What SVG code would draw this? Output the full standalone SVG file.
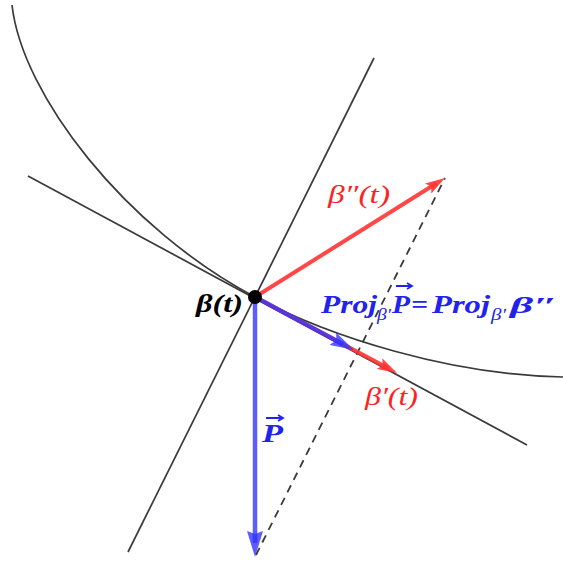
<svg xmlns="http://www.w3.org/2000/svg" width="563" height="561" viewBox="0 0 563 561">
<defs>
<style>
.ln{fill:none;stroke:#3a3a3a;stroke-width:1.7}
.dash{fill:none;stroke:#3a3a3a;stroke-width:1.8;stroke-dasharray:8,6}
.red{stroke:#ff3333;stroke-opacity:0.9;stroke-width:4;fill:none}
.blue{stroke:#3333ff;stroke-opacity:0.8;stroke-width:4.5;fill:none}
.t{font-family:"Liberation Serif","DejaVu Serif",serif;font-style:italic}
.b{font-weight:bold}
</style>
<marker id="ar" markerUnits="userSpaceOnUse" viewBox="0 0 20 12" markerWidth="20" markerHeight="12" refX="10" refY="6" orient="auto"><path d="M0,0 L20,6 L0,12 L4,6 z" fill="#ff3333" fill-opacity="0.9"/></marker>
<marker id="ab" markerUnits="userSpaceOnUse" viewBox="0 0 24 14" markerWidth="24" markerHeight="14" refX="12" refY="7" orient="auto"><path d="M0,0 L24,7 L0,14 L4,7 z" fill="#3333ff" fill-opacity="0.8"/></marker>
<marker id="abig" markerUnits="userSpaceOnUse" viewBox="0 0 26 16" markerWidth="26" markerHeight="16" refX="12" refY="8" orient="auto"><path d="M0,0 L26,8 L0,16 L3,8 z" fill="#3333ff" fill-opacity="0.8"/></marker>
</defs>
<g id="connectors">
<path class="ln" d="M12,5 C22,95 125,228 255,297 C330,337 450,375 563,377"/>
<line class="ln" x1="28" y1="176" x2="527" y2="445"/>
<line class="ln" x1="128" y1="552" x2="374" y2="58"/>
<line class="dash" x1="256" y1="555" x2="445" y2="178"/>
<line class="red" x1="255" y1="297" x2="436.5" y2="183.3" marker-end="url(#ar)"/>
<line class="red" x1="255" y1="297" x2="388.2" y2="368.3" marker-end="url(#ar)"/>
<line class="blue" x1="255" y1="297" x2="343.4" y2="344.4" marker-end="url(#ab)"/>
<line class="blue" x1="255" y1="297" x2="255" y2="543" marker-end="url(#abig)"/>
</g>
<g id="point"><circle cx="255" cy="297" r="7" fill="#000"/></g>
<g id="labels">
<text class="t b" x="196" y="312" font-size="26" textLength="47" lengthAdjust="spacingAndGlyphs">β(t)</text>
<text class="t" x="328" y="203" font-size="25" fill="#ff2222" textLength="62" lengthAdjust="spacingAndGlyphs">β″(t)</text>
<text class="t" x="365" y="405" font-size="25" fill="#ff2222" textLength="53" lengthAdjust="spacingAndGlyphs">β′(t)</text>
<g fill="#2222ee">
<text class="t b" x="262" y="442" font-size="25" textLength="21" lengthAdjust="spacingAndGlyphs">P</text>
<path d="M266,418 H282 M278,415 L283,418 L278,421" stroke="#2222ee" stroke-width="1.8" fill="none"/>
<text class="t b" x="321" y="313" font-size="26" textLength="56" lengthAdjust="spacingAndGlyphs">Proj</text>
<text class="t" x="377" y="320" font-size="16" textLength="14" lengthAdjust="spacingAndGlyphs">β′</text>
<text class="t b" x="392" y="313" font-size="26" textLength="18" lengthAdjust="spacingAndGlyphs">P</text>
<path d="M396,286 H411 M407,283 L412,286 L407,289" stroke="#2222ee" stroke-width="1.8" fill="none"/>
<text class="t b" x="411" y="313" font-size="26" font-style="normal" textLength="17" lengthAdjust="spacingAndGlyphs">=</text>
<text class="t b" x="432" y="313" font-size="26" textLength="58" lengthAdjust="spacingAndGlyphs">Proj</text>
<text class="t" x="491" y="320" font-size="16" textLength="15" lengthAdjust="spacingAndGlyphs">β′</text>
<text class="t b" x="510" y="313" font-size="23" textLength="48" lengthAdjust="spacingAndGlyphs">β″</text>
</g>
</g>
</svg>
